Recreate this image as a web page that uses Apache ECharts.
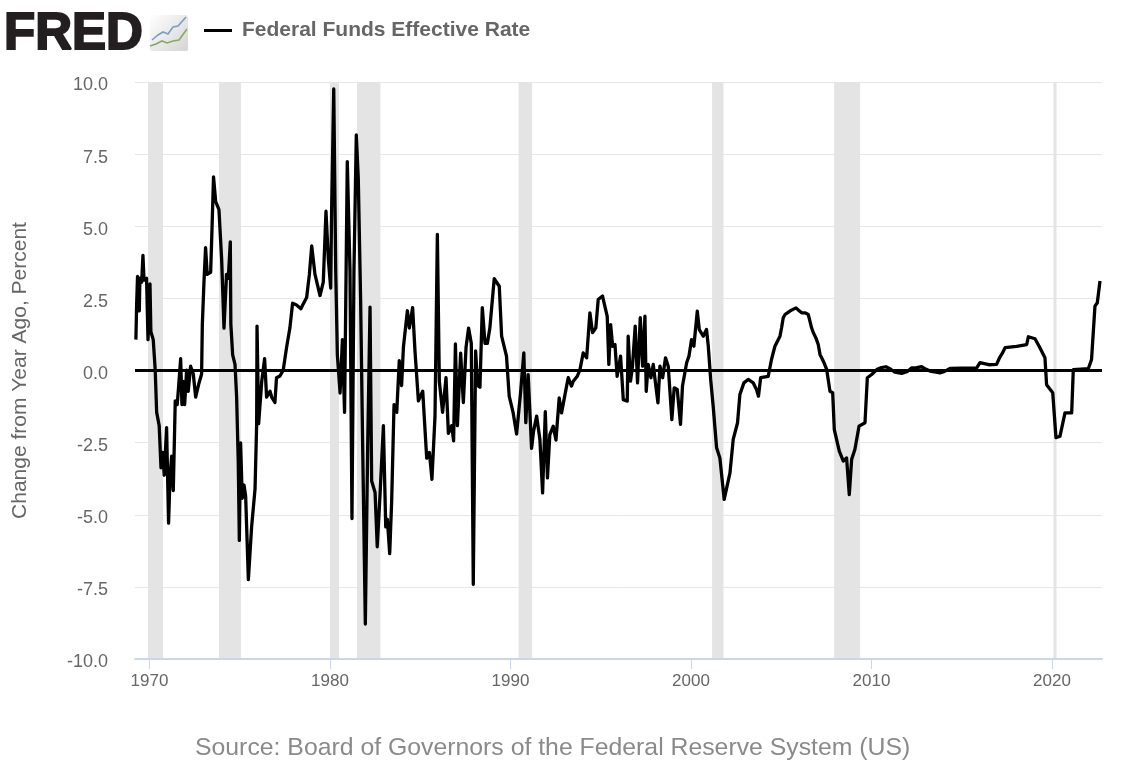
<!DOCTYPE html>
<html>
<head>
<meta charset="utf-8">
<style>html,body{margin:0;padding:0;background:#fff}#chart{width:1125px;height:768px}</style>
<script src="https://cdn.jsdelivr.net/npm/echarts@6/dist/echarts.min.js"></script>
</head>
<body>
<div id="chart"></div>
<script>
const seriesName = 'Federal Funds Effective Rate';
const yAxisTitle = 'Change from Year Ago, Percent';
const sourceText = 'Source: Board of Governors of the Federal Reserve System (US)';
const xTicks = [1970, 1980, 1990, 2000, 2010, 2020];
const dates = [
1969.25,1969.29,1969.34,1969.44,1969.47,1969.57,1969.64,1969.70,1969.84,1969.92,1970.03,1970.08,1970.21,1970.32,1970.40,1970.54,1970.64,1970.73,1970.82,1970.95,
1971.06,1971.14,1971.23,1971.32,1971.43,1971.54,1971.62,1971.73,1971.80,1971.87,1971.95,1972.06,1972.15,1972.28,1972.43,1972.56,1972.74,1972.89,1972.93,1973.02,
1973.11,1973.20,1973.39,1973.46,1973.55,1973.67,1973.85,1974.00,1974.13,1974.27,1974.37,1974.48,1974.51,1974.61,1974.74,1974.83,1974.92,1974.98,1975.05,1975.14,
1975.24,1975.33,1975.48,1975.66,1975.85,1975.94,1975.96,1976.05,1976.22,1976.38,1976.49,1976.68,1976.77,1976.95,1977.04,1977.23,1977.41,1977.60,1977.78,1977.93,
1978.15,1978.39,1978.49,1978.71,1978.86,1978.99,1979.17,1979.45,1979.63,1979.78,1979.91,1980.04,1980.09,1980.21,1980.32,1980.41,1980.56,1980.69,1980.81,1980.96,
1981.11,1981.22,1981.33,1981.46,1981.57,1981.70,1981.81,1981.96,1982.09,1982.22,1982.31,1982.50,1982.62,1982.77,1982.96,1983.09,1983.18,1983.31,1983.42,1983.55,
1983.70,1983.84,1983.97,1984.07,1984.29,1984.40,1984.58,1984.71,1984.90,1985.14,1985.36,1985.51,1985.65,1985.82,1985.95,1986.06,1986.24,1986.43,1986.56,1986.74,
1986.85,1986.95,1987.06,1987.24,1987.39,1987.54,1987.68,1987.83,1987.94,1988.07,1988.18,1988.31,1988.44,1988.59,1988.72,1988.86,1989.10,1989.38,1989.51,1989.78,
1989.93,1990.15,1990.34,1990.56,1990.74,1990.85,1990.98,1991.17,1991.28,1991.45,1991.63,1991.78,1991.93,1992.05,1992.18,1992.37,1992.52,1992.70,1992.83,1993.11,
1993.20,1993.38,1993.48,1993.70,1993.85,1994.03,1994.22,1994.40,1994.55,1994.73,1994.86,1995.10,1995.36,1995.45,1995.55,1995.66,1995.79,1995.91,1996.10,1996.25,
1996.47,1996.52,1996.65,1996.76,1996.91,1997.04,1997.19,1997.32,1997.45,1997.52,1997.63,1997.78,1997.91,1998.02,1998.17,1998.28,1998.43,1998.59,1998.74,1998.94,
1999.07,1999.24,1999.42,1999.53,1999.76,1999.89,2000.03,2000.16,2000.35,2000.46,2000.68,2000.86,2000.96,2001.09,2001.23,2001.42,2001.60,2001.84,2002.16,2002.34,
2002.58,2002.71,2002.93,2003.17,2003.45,2003.63,2003.74,2003.86,2004.28,2004.46,2004.65,2004.93,2005.02,2005.11,2005.21,2005.34,2005.48,2005.63,2005.82,2005.96,
2006.13,2006.31,2006.50,2006.59,2006.68,2006.78,2006.92,2007.05,2007.15,2007.24,2007.37,
2007.52,2007.70,2007.85,2007.94,2008.22,2008.44,2008.62,2008.77,2008.90,2009.08,2009.31,2009.64,2009.77,2010.01,2010.29,2010.55,2010.80,2011.05,2011.30,2011.67,2012.00,2012.22,2012.50,2012.78,
2013.00,2013.24,2013.50,2013.79,2014.05,2014.35,2015.00,2015.83,2016.01,2016.50,2016.93,2017.10,2017.25,2017.40,2018.04,2018.60,2018.69,2019.06,2019.33,2019.61,2019.70,2020.04,2020.22,2020.44,2020.72,2021.09,2021.18,
2022.01,2022.19,2022.38,2022.51,2022.66
];
const rates = [
1.07,2.27,3.26,2.07,3.20,3.06,3.99,3.13,3.20,1.07,3.00,1.34,1.07,0.01,-1.45,-1.91,-3.37,-2.84,-3.63,-1.98,
-5.29,-3.70,-2.97,-4.16,-1.05,-1.18,-0.52,0.41,-1.18,-0.38,-1.18,0.01,-0.72,0.15,-0.12,-0.92,-0.45,-0.12,1.60,3.06,
4.26,3.33,3.40,4.79,6.71,5.85,5.58,3.86,1.47,3.33,3.20,4.46,1.60,0.54,0.21,-0.92,-3.17,-5.89,-2.51,-4.43,
-3.97,-4.36,-7.25,-5.42,-4.10,-1.84,1.54,-1.84,-0.38,0.41,-0.92,-0.72,-0.92,-1.11,-0.25,-0.19,0.01,0.81,1.47,2.33,
2.27,2.14,2.27,2.53,3.33,4.32,3.33,2.60,3.06,5.52,3.86,2.86,5.45,9.76,3.46,0.54,-0.78,1.07,-1.45,7.24,
3.46,-5.13,3.46,8.17,6.64,2.40,-2.51,-8.79,-2.64,2.20,-3.83,-4.23,-6.11,-4.36,-1.91,-5.42,-5.16,-6.35,-4.50,-1.18,
-1.45,0.34,-0.52,0.81,2.07,1.47,2.18,0.68,-1.05,-0.72,-3.04,-2.84,-3.77,-1.58,4.72,-0.38,-1.45,-0.25,-2.18,-1.91,
-2.44,0.92,-1.91,0.60,-1.11,0.81,1.47,0.94,-7.41,0.68,-0.52,-0.58,2.18,0.94,0.94,1.48,3.18,2.92,1.19,0.50,
-0.89,-1.47,-2.20,-0.77,0.61,-1.81,-0.14,-2.70,-2.10,-1.58,-2.39,-4.24,-1.43,-3.72,-2.22,-1.93,-2.41,-0.95,-1.47,-0.54,
-0.25,-0.54,-0.37,-0.20,0.03,0.61,0.44,2.00,1.31,1.48,2.46,2.58,1.88,0.21,1.59,0.84,0.90,-0.20,0.50,-1.01,
-1.06,1.19,-0.37,0.15,1.54,-0.43,1.83,0.15,1.88,-0.72,0.21,-0.25,0.21,-0.37,-1.12,0.15,-0.25,0.44,0.15,-1.70,
-0.60,-0.66,-1.87,-0.54,0.27,0.50,1.07,0.84,2.06,1.42,1.19,1.42,0.84,-0.31,-1.24,-2.68,-3.03,-4.47,-3.55,-2.39,
-1.81,-0.83,-0.43,-0.31,-0.43,-0.66,-0.89,-0.25,-0.20,0.38,0.84,1.19,1.48,1.83,1.94,2.00,2.06,2.11,2.17,2.09,
2.00,2.00,1.94,1.71,1.48,1.31,1.13,0.90,0.55,0.44,0.27,
0.03,-0.72,-0.77,-2.05,-2.80,-3.14,-3.03,-4.30,-3.08,-2.74,-1.93,-1.81,-0.25,-0.14,0.03,0.10,0.13,0.05,-0.06,-0.10,-0.03,0.09,0.10,0.13,
0.05,-0.02,-0.05,-0.08,-0.03,0.07,0.08,0.09,0.27,0.20,0.21,0.45,0.60,0.79,0.84,0.90,1.17,1.10,0.79,0.44,-0.49,-0.77,-2.33,-2.28,-1.47,-1.47,0.03,
0.06,0.38,2.23,2.35,3.10
];
const recessionStarts = [1969.92, 1973.85, 1980.00, 1981.50, 1990.45, 2001.17, 2007.93, 2020.08];
const recessionEnds   = [1970.75, 1975.07, 1980.50, 1982.80, 1991.20, 2001.80, 2009.37, 2020.25];

const chart = echarts.init(document.getElementById('chart'), null, {renderer: 'canvas'});
const FONT = '"Liberation Sans", Arial, sans-serif';
chart.setOption({
  animation: false,
  backgroundColor: '#fff',
  textStyle: {fontFamily: FONT},
  grid: {left: 135, right: 23, top: 82, bottom: 109, containLabel: false},
  title: {
    text: sourceText, left: 190, top: 731,
    textStyle: {color: '#8a8a8a', fontSize: 24.8, fontWeight: 'normal', fontFamily: FONT}
  },
  legend: {
    left: 199, top: 15, icon: 'rect', itemWidth: 28, itemHeight: 3,
    data: [seriesName],
    textStyle: {color: '#666', fontSize: 21, fontWeight: 'bold', fontFamily: FONT, padding: [0, 0, 0, 5]}
  },
  xAxis: {
    type: 'value', min: 1969.2, max: 2022.77, z: 5,
    splitLine: {show: false},
    axisLine: {show: true, onZero: false, lineStyle: {color: '#ccd6eb', width: 2}},
    axisTick: {show: true, length: 10, customValues: xTicks, lineStyle: {color: '#ccd6eb', width: 1}},
    axisLabel: {customValues: xTicks, color: '#666', fontSize: 17, margin: 14, formatter: v => String(v)}
  },
  yAxis: {
    type: 'value', min: -10, max: 10, interval: 2.5,
    name: yAxisTitle, nameLocation: 'middle', nameRotate: 90, nameGap: 104,
    nameTextStyle: {color: '#666', fontSize: 21},
    axisLine: {show: false}, axisTick: {show: false},
    axisLabel: {
      margin: 27,
      formatter: v => '{t|' + v.toFixed(1) + '}',
      rich: {t: {color: '#666', fontSize: 18, padding: [7, 0, 0, 0]}}
    },
    splitLine: {lineStyle: {color: '#e6e6e6', width: 1}}
  },
  series: [{
    name: seriesName, type: 'line', showSymbol: false, symbol: 'none',
    data: dates.map((d, i) => [d, rates[i]]),
    lineStyle: {color: '#000', width: 3.3, join: 'round'},
    itemStyle: {color: '#000'},
    markArea: {
      silent: true,
      itemStyle: {color: '#e4e4e4'},
      data: recessionStarts.map((s, i) => [{xAxis: s}, {xAxis: recessionEnds[i]}])
    },
    markLine: {
      silent: true, symbol: 'none', label: {show: false},
      lineStyle: {color: '#000', type: 'solid', width: 3},
      data: [{yAxis: 0}]
    }
  }],
  graphic: [
    {type: 'text', left: 3, top: 8, style: {text: 'FRED', fill: '#231f20', stroke: '#231f20', lineWidth: 2, font: '900 51px "Liberation Sans", Arial, sans-serif'}},
    {type: 'rect', shape: {x: 150, y: 15, width: 38, height: 36, r: 2}, style: {fill: new echarts.graphic.LinearGradient(0, 0, 1, 1, [{offset: 0, color: '#ffffff'}, {offset: 1, color: '#d4d4d4'}])}},
    {type: 'polyline', shape: {points: [[152,40],[158,35],[163,32],[168,34],[173,27],[178,26],[186,17]]}, style: {stroke: '#7d9fbf', lineWidth: 1.6, fill: null}},
    {type: 'polyline', shape: {points: [[150,46],[156,44],[162,41],[167,43],[173,41],[179,40],[187,29]]}, style: {stroke: '#8aa860', lineWidth: 1.6, fill: null}}
  ]
});
</script>
</body>
</html>
